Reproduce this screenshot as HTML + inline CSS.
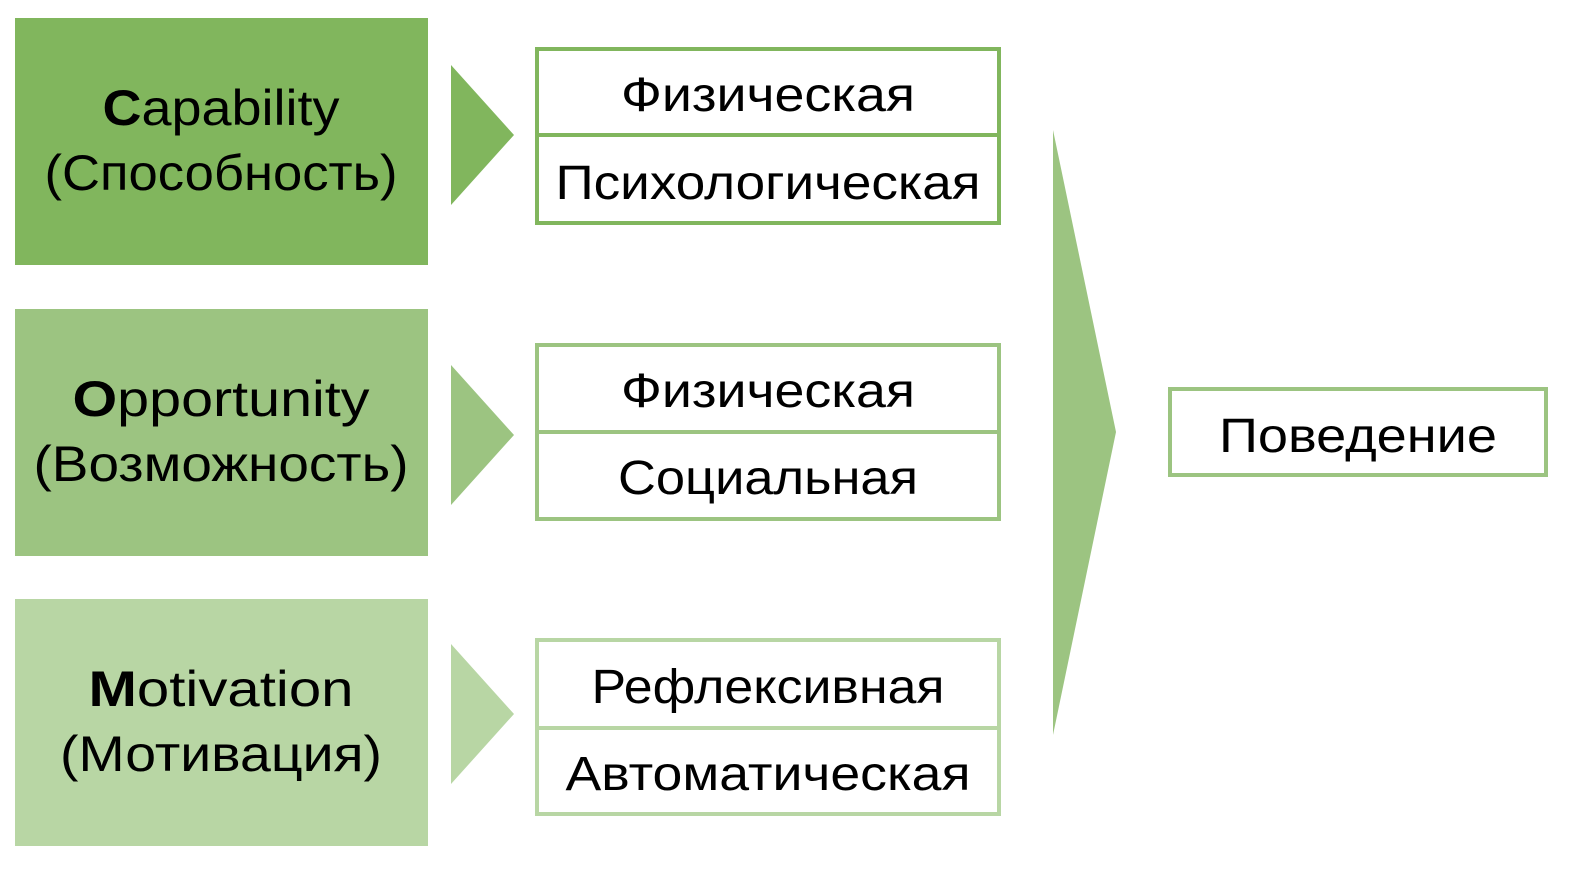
<!DOCTYPE html>
<html><head><meta charset="utf-8"><style>html,body{margin:0;padding:0;background:#fff}svg{display:block}</style></head>
<body>
<svg width="1578" height="871" viewBox="0 0 1578 871" xmlns="http://www.w3.org/2000/svg" font-family="'Liberation Sans', sans-serif" fill="#000">
<rect x="15" y="18" width="413" height="247" fill="#81b65d"/>
<rect x="15" y="309" width="413" height="247" fill="#9cc481"/>
<rect x="15" y="599" width="413" height="247" fill="#b8d6a4"/>
<polygon points="451,65 514,135 451,205" fill="#81b65d"/>
<polygon points="451,365 514,435 451,505" fill="#9cc481"/>
<polygon points="451,644 514,714 451,784" fill="#b8d6a4"/>
<g fill="#fff" stroke-width="4">
<rect x="537" y="49" width="462" height="174" stroke="#81b65d"/>
<line x1="537" y1="135" x2="999" y2="135" stroke="#81b65d" stroke-width="4"/>
<rect x="537" y="345" width="462" height="174" stroke="#9cc481"/>
<line x1="537" y1="432" x2="999" y2="432" stroke="#9cc481" stroke-width="4"/>
<rect x="537" y="640" width="462" height="174" stroke="#b8d6a4"/>
<line x1="537" y1="728" x2="999" y2="728" stroke="#b8d6a4" stroke-width="4"/>
<rect x="1170" y="389" width="376" height="86" stroke="#9cc481"/>
</g>
<polygon points="1053,130 1116,432 1053,735" fill="#9cc481"/>
<g font-size="50" text-anchor="middle">
<text x="221" y="125" textLength="237" lengthAdjust="spacingAndGlyphs"><tspan font-weight="bold">C</tspan>apability</text>
<text x="221" y="190" textLength="353" lengthAdjust="spacingAndGlyphs">(Способность)</text>
<text x="221" y="416" textLength="297" lengthAdjust="spacingAndGlyphs"><tspan font-weight="bold">O</tspan>pportunity</text>
<text x="221" y="481" textLength="375" lengthAdjust="spacingAndGlyphs">(Возможность)</text>
<text x="221" y="706" textLength="265" lengthAdjust="spacingAndGlyphs"><tspan font-weight="bold">M</tspan>otivation</text>
<text x="221" y="771" textLength="322" lengthAdjust="spacingAndGlyphs">(Мотивация)</text>
</g>
<g font-size="48" text-anchor="middle">
<text x="768" y="111" textLength="294" lengthAdjust="spacingAndGlyphs">Физическая</text>
<text x="768" y="199" textLength="425" lengthAdjust="spacingAndGlyphs">Психологическая</text>
<text x="768" y="407" textLength="294" lengthAdjust="spacingAndGlyphs">Физическая</text>
<text x="768" y="494" textLength="300" lengthAdjust="spacingAndGlyphs">Социальная</text>
<text x="768" y="703" textLength="353" lengthAdjust="spacingAndGlyphs">Рефлексивная</text>
<text x="768" y="790" textLength="405" lengthAdjust="spacingAndGlyphs">Автоматическая</text>
<text x="1358" y="452" textLength="278" lengthAdjust="spacingAndGlyphs">Поведение</text>
</g>
</svg>
</body></html>
